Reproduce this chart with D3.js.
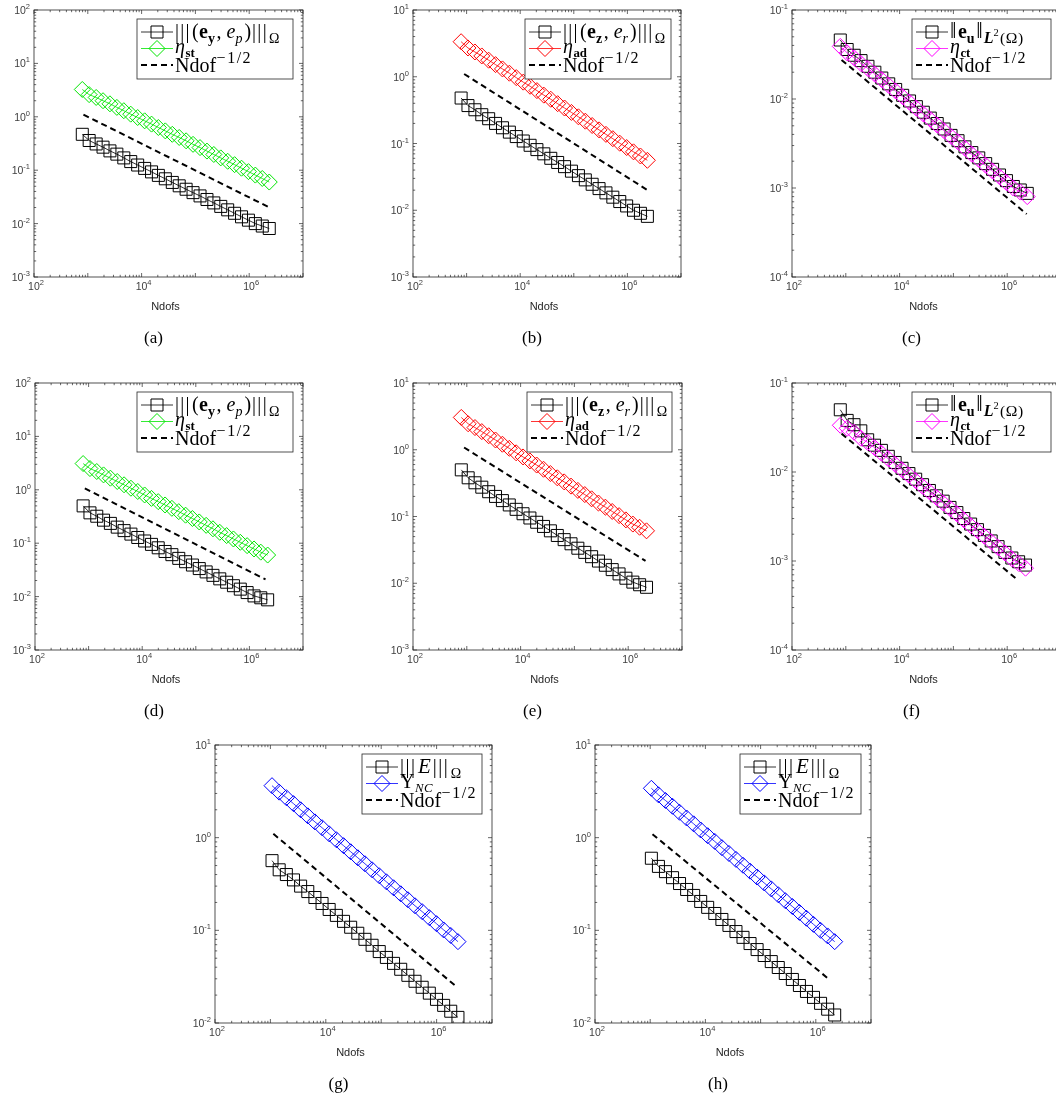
<!DOCTYPE html>
<html>
<head>
<meta charset="utf-8">
<script src="https://cdn.jsdelivr.net/npm/d3@7"></script>
<style>
  body { margin: 0; background: #fff; }
  #fig { will-change: transform; }
</style>
</head>
<body>
<svg id="fig" width="1056" height="1099"></svg>
<script>
// ---- data ----
const ndofsRow1 = [790, 1060, 1430, 1920, 2580, 3470, 4670, 6280, 8450, 11400, 15300, 20500, 27600, 37200,
  50000, 67200, 90400, 122000, 164000, 220000, 296000, 398000, 535000, 720000, 968000, 1300000, 1750000, 2360000];
const ndofsRow2 = [790, 1060, 1420, 1900, 2550, 3420, 4590, 6160, 8260, 11100, 14900, 19900, 26700, 35800,
  48100, 64500, 86500, 116000, 156000, 209000, 280000, 376000, 504000, 676000, 907000, 1220000, 1630000, 2190000];
const ndofsG = [1070, 1440, 1940, 2610, 3510, 4730, 6360, 8560, 11500, 15500, 20900, 28100, 37800, 50900,
  68500, 92200, 124000, 167000, 225000, 303000, 408000, 549000, 739000, 995000, 1340000, 1800000, 2430000];
const ndofsH = [1050, 1410, 1890, 2540, 3400, 4570, 6130, 8220, 11000, 14800, 19900, 26700, 35800, 48000,
  64400, 86400, 116000, 156000, 209000, 280000, 376000, 505000, 677000, 909000, 1220000, 1640000, 2200000];

const errA = [0.47, 0.36, 0.31, 0.27, 0.23, 0.20, 0.17, 0.145, 0.125, 0.108, 0.093, 0.080, 0.069, 0.059,
  0.051, 0.044, 0.038, 0.033, 0.0283, 0.0244, 0.021, 0.0181, 0.0156, 0.0134, 0.0116, 0.0100, 0.0090, 0.0081];
const estA = [3.25, 2.6, 2.3, 2.0, 1.75, 1.5, 1.3, 1.12, 0.97, 0.84, 0.73, 0.63, 0.545, 0.47,
  0.41, 0.355, 0.305, 0.265, 0.228, 0.197, 0.17, 0.147, 0.127, 0.109, 0.094, 0.081, 0.07, 0.06];
const errB = [0.48, 0.37, 0.32, 0.27, 0.235, 0.2, 0.172, 0.148, 0.127, 0.109, 0.094, 0.081, 0.07, 0.06,
  0.052, 0.045, 0.0385, 0.033, 0.0285, 0.0245, 0.0211, 0.0182, 0.0157, 0.0135, 0.0116, 0.01, 0.009, 0.0081];
const estB = [3.35, 2.7, 2.35, 2.05, 1.77, 1.52, 1.31, 1.13, 0.97, 0.83, 0.72, 0.62, 0.53, 0.46,
  0.395, 0.34, 0.292, 0.251, 0.216, 0.186, 0.16, 0.137, 0.118, 0.101, 0.087, 0.075, 0.065, 0.056];
const errC = [0.046, 0.036, 0.031, 0.027, 0.0233, 0.02, 0.0172, 0.0148, 0.0128, 0.011, 0.0095, 0.0082, 0.0071, 0.0061,
  0.0053, 0.0046, 0.0039, 0.0034, 0.0029, 0.0025, 0.00218, 0.00188, 0.00162, 0.0014, 0.00121, 0.00104, 0.00095, 0.00087];
const estC = [0.039, 0.033, 0.029, 0.025, 0.022, 0.019, 0.0165, 0.0142, 0.0123, 0.0106, 0.0092, 0.0079, 0.0068, 0.0059,
  0.0051, 0.0044, 0.0038, 0.0033, 0.0028, 0.0024, 0.0021, 0.0018, 0.00155, 0.00134, 0.00115, 0.001, 0.0009, 0.0008];

const errD = [0.5, 0.37, 0.32, 0.27, 0.235, 0.2, 0.172, 0.148, 0.128, 0.11, 0.095, 0.082, 0.07, 0.061,
  0.052, 0.045, 0.039, 0.0335, 0.029, 0.025, 0.0215, 0.0186, 0.016, 0.0138, 0.0119, 0.0103, 0.0095, 0.0087];
const estD = [3.1, 2.5, 2.2, 1.9, 1.65, 1.43, 1.24, 1.07, 0.93, 0.8, 0.69, 0.6, 0.52, 0.45,
  0.39, 0.335, 0.29, 0.25, 0.216, 0.186, 0.16, 0.139, 0.12, 0.104, 0.09, 0.078, 0.068, 0.06];
const errE = [0.5, 0.38, 0.32, 0.275, 0.235, 0.2, 0.173, 0.149, 0.128, 0.11, 0.095, 0.082, 0.071, 0.061,
  0.052, 0.045, 0.039, 0.0335, 0.029, 0.025, 0.0215, 0.0186, 0.016, 0.0138, 0.0119, 0.0104, 0.0095, 0.0087];
const estE = [3.05, 2.45, 2.15, 1.87, 1.62, 1.4, 1.21, 1.05, 0.9, 0.78, 0.68, 0.59, 0.51, 0.44,
  0.38, 0.33, 0.285, 0.246, 0.213, 0.184, 0.159, 0.138, 0.119, 0.103, 0.089, 0.077, 0.069, 0.061];
const errF = [0.05, 0.038, 0.034, 0.029, 0.023, 0.02, 0.0175, 0.015, 0.0128, 0.011, 0.0096, 0.0083, 0.0072, 0.0062,
  0.0054, 0.0047, 0.004, 0.0035, 0.003, 0.0026, 0.00225, 0.00194, 0.00168, 0.00145, 0.00125, 0.00108, 0.00098, 0.0009];
const estF = [0.0335, 0.031, 0.028, 0.024, 0.0215, 0.0188, 0.0163, 0.0141, 0.0122, 0.0106, 0.0092, 0.008, 0.0069, 0.006,
  0.0052, 0.0045, 0.0039, 0.0034, 0.0029, 0.0025, 0.0022, 0.0019, 0.00165, 0.00142, 0.00123, 0.00106, 0.00094, 0.00083];

const errG = [0.565, 0.45, 0.4, 0.35, 0.3, 0.262, 0.226, 0.195, 0.168, 0.145, 0.125, 0.108, 0.093, 0.08,
  0.069, 0.059, 0.051, 0.044, 0.038, 0.0327, 0.0282, 0.0243, 0.021, 0.018, 0.0155, 0.0134, 0.0115];
const estG = [3.64, 3.1, 2.7, 2.33, 2.0, 1.72, 1.48, 1.28, 1.1, 0.95, 0.82, 0.705, 0.607, 0.523,
  0.45, 0.388, 0.334, 0.288, 0.248, 0.214, 0.184, 0.159, 0.137, 0.118, 0.101, 0.088, 0.0755];
const errH = [0.6, 0.49, 0.43, 0.37, 0.32, 0.276, 0.238, 0.205, 0.177, 0.152, 0.131, 0.113, 0.097, 0.084,
  0.072, 0.062, 0.0535, 0.046, 0.0397, 0.0342, 0.0295, 0.0254, 0.0219, 0.0189, 0.0163, 0.0141, 0.0122];
const estH = [3.41, 2.9, 2.52, 2.18, 1.88, 1.63, 1.41, 1.21, 1.05, 0.91, 0.78, 0.675, 0.583, 0.504,
  0.435, 0.376, 0.325, 0.28, 0.242, 0.209, 0.181, 0.156, 0.135, 0.116, 0.1, 0.087, 0.0755];

// reference slope Ndof^{-1/2}: end points [ndof, value]
const refA = [[830, 1.1], [2270000, 0.0205]];
const refB = [[900, 1.1], [2290000, 0.0204]];
const refC = [[833, 0.0275], [2300000, 0.00051]];
const refD = [[850, 1.06], [2000000, 0.021]];
const refE = [[890, 1.08], [2100000, 0.0216]];
const refF = [[833, 0.027], [1580000, 0.00061]];
const refG = [[1130, 1.1], [2360000, 0.0243]];
const refH = [[1100, 1.09], [1800000, 0.0291]];

const xDomain = [1e2, 1e7];
const captions = ["(a)", "(b)", "(c)", "(d)", "(e)", "(f)", "(g)", "(h)"];

// legend labels (pieces of math text)
const lblErrYP = [{t: "|||", ls: 1.3}, {t: "(", dx: 1}, {t: "e", b: 1, dx: 0.5}, {t: "y", b: 1, sub: 1}, {t: ",", dx: 1.5},
  {t: "e", i: 1, dx: 5}, {t: "p", i: 1, sub: 1}, {t: ")", dx: 2}, {t: "|||", ls: 1.3, dx: 1}, {t: "Ω", sub: 1, dx: 1}];
const lblErrZR = [{t: "|||", ls: 1.3}, {t: "(", dx: 1}, {t: "e", b: 1, dx: 0.5}, {t: "z", b: 1, sub: 1}, {t: ",", dx: 1.5},
  {t: "e", i: 1, dx: 5}, {t: "r", i: 1, sub: 1}, {t: ")", dx: 2}, {t: "|||", ls: 1.3, dx: 1}, {t: "Ω", sub: 1, dx: 1}];
const lblErrU = [{t: "‖", f: 1.15}, {t: "e", b: 1, dx: 1.5}, {t: "u", b: 1, sub: 1}, {t: "‖", f: 1.15, dx: 1.5},
  {t: "L", b: 1, i: 1, sub: 1, f: 0.8, dx: 1}, {t: "2", sup2: 1}, {t: "(Ω)", sub: 1, f: 0.78, dx: 1.5, ls: 0.5}];
const lblErrE = [{t: "|||", ls: 1.5}, {t: "E", i: 1, dx: 1.5, f: 1.05}, {t: "|||", ls: 1.5, dx: 2}, {t: "Ω", sub: 1, dx: 1.5}];
const lblEtaSt = [{t: "η", i: 1}, {t: "st", b: 1, sub: 1, lo: 1, dx: 0.5}];
const lblEtaAd = [{t: "η", i: 1}, {t: "ad", b: 1, sub: 1, lo: 1, dx: 0.5}];
const lblEtaCt = [{t: "η", i: 1}, {t: "ct", b: 1, sub: 1, lo: 1, dx: 0.5}];
const lblUps = [{t: "Υ"}, {t: "NC", i: 1, sub: 1, lo: 1, dx: 0.5, ls: 0.5}];
const lblRef = [{t: "Ndof"}, {t: "−", sup: 1, f: 0.8, dx: 0.5}, {t: "1/2", sup: 1, f: 0.8, dx: 1.5, ls: 1.5}];

const panels = [
  {x: 34, y: 10, w: 269, h: 267, yDomain: [1e-3, 1e2], n: ndofsRow1, err: errA, est: estA, ref: refA, color: "#00e600", lw: 156, lErr: lblErrYP, lEst: lblEtaSt},
  {x: 413, y: 10, w: 268, h: 267, yDomain: [1e-3, 1e1], n: ndofsRow1, err: errB, est: estB, ref: refB, color: "#ff0000", lw: 146, lErr: lblErrZR, lEst: lblEtaAd},
  {x: 792, y: 10, w: 269, h: 267, yDomain: [1e-4, 1e-1], n: ndofsRow1, err: errC, est: estC, ref: refC, color: "#ff00ff", lw: 139, lErr: lblErrU, lEst: lblEtaCt},
  {x: 35, y: 383, w: 268, h: 267, yDomain: [1e-3, 1e2], n: ndofsRow2, err: errD, est: estD, ref: refD, color: "#00e600", lw: 156, lErr: lblErrYP, lEst: lblEtaSt},
  {x: 413, y: 383, w: 269, h: 267, yDomain: [1e-3, 1e1], n: ndofsRow2, err: errE, est: estE, ref: refE, color: "#ff0000", lw: 145, lErr: lblErrZR, lEst: lblEtaAd},
  {x: 792, y: 383, w: 269, h: 267, yDomain: [1e-4, 1e-1], n: ndofsRow2, err: errF, est: estF, ref: refF, color: "#ff00ff", lw: 139, lErr: lblErrU, lEst: lblEtaCt},
  {x: 215, y: 745, w: 277, h: 278, yDomain: [1e-2, 1e1], n: ndofsG, err: errG, est: estG, ref: refG, color: "#0000ff", lw: 120, lErr: lblErrE, lEst: lblUps},
  {x: 595, y: 745, w: 276, h: 278, yDomain: [1e-2, 1e1], n: ndofsH, err: errH, est: estH, ref: refH, color: "#0000ff", lw: 121, lErr: lblErrE, lEst: lblUps}
];

const serif = "Liberation Serif, Times New Roman, serif";
const sans = "Liberation Sans, Arial, sans-serif";
const axisColor = "#262626";

const svg = d3.select("#fig");
svg.append("rect").attr("width", 1056).attr("height", 1099).attr("fill", "#fff");

function mathText(g, x, y, parts, size) {
  const t = g.append("text").attr("x", x).attr("y", y)
    .style("font-family", serif).attr("font-size", size).attr("fill", "#000");
  let cur = 0;
  parts.forEach(p => {
    let shift = 0, fs = size;
    if (p.sub) { shift = size * (p.lo ? 0.18 : 0.25); fs = size * (p.lo ? 0.64 : 0.7); }
    if (p.sup) { shift = -size * 0.42; fs = size * 0.74; }
    if (p.sup2) { shift = -size * 0.1; fs = size * 0.52; }
    if (p.f) fs = size * p.f;
    t.append("tspan")
      .attr("dy", (shift - cur).toFixed(2))
      .attr("dx", p.dx || null)
      .style("font-family", serif)
      .attr("font-size", fs)
      .attr("font-weight", p.b ? "bold" : null)
      .attr("font-style", p.i ? "italic" : null)
      .attr("letter-spacing", p.ls != null ? p.ls : null)
      .text(p.t);
    cur = shift;
  });
  return t;
}

function squarePath(s) { return `M${-s},${-s}H${s}V${s}H${-s}Z`; }
function diamondPath(s) { return `M0,${-s}L${s},0L0,${s}L${-s},0Z`; }

function powLabel(g, x, y, exp, anchor) {
  const t = g.append("text").attr("x", x).attr("y", y)
    .style("font-family", sans).attr("font-size", 10.5).attr("fill", "#404040")
    .attr("text-anchor", anchor);
  t.append("tspan").text("10");
  t.append("tspan").attr("dy", -5).attr("font-size", 7.5).text(exp);
}

panels.forEach((p, pi) => {
  const g = svg.append("g").attr("transform", `translate(${p.x},${p.y})`);
  const x = d3.scaleLog().domain(xDomain).range([0, p.w]);
  const y = d3.scaleLog().domain(p.yDomain).range([p.h, 0]);

  const clipId = "clip" + pi;
  g.append("clipPath").attr("id", clipId).append("rect").attr("width", p.w).attr("height", p.h);

  // ticks (inside, all four sides)
  const eLo = Math.round(Math.log10(xDomain[0])), eHi = Math.round(Math.log10(xDomain[1]));
  const xMajor = [], xMinor = [];
  for (let e = eLo; e <= eHi; e++) {
    xMajor.push(Math.pow(10, e));
    if (e < eHi) for (let m = 2; m <= 9; m++) xMinor.push(m * Math.pow(10, e));
  }
  const yLo = Math.round(Math.log10(p.yDomain[0])), yHi = Math.round(Math.log10(p.yDomain[1]));
  const yMajor = [], yMinor = [];
  for (let e = yLo; e <= yHi; e++) {
    yMajor.push(Math.pow(10, e));
    if (e < yHi) for (let m = 2; m <= 9; m++) yMinor.push(m * Math.pow(10, e));
  }
  const tk = g.append("g").attr("stroke", axisColor).attr("stroke-width", 0.7);
  const tick = (v, len) => {
    tk.append("line").attr("x1", x(v)).attr("x2", x(v)).attr("y1", p.h).attr("y2", p.h - len);
    tk.append("line").attr("x1", x(v)).attr("x2", x(v)).attr("y1", 0).attr("y2", len);
  };
  xMajor.forEach(v => tick(v, 4));
  xMinor.forEach(v => tick(v, 2.2));
  const ytick = (v, len) => {
    tk.append("line").attr("y1", y(v)).attr("y2", y(v)).attr("x1", 0).attr("x2", len);
    tk.append("line").attr("y1", y(v)).attr("y2", y(v)).attr("x1", p.w).attr("x2", p.w - len);
  };
  yMajor.forEach(v => ytick(v, 4));
  yMinor.forEach(v => ytick(v, 2.2));

  // tick labels
  [1e2, 1e4, 1e6].forEach(v => powLabel(g, x(v) + 2, p.h + 13, Math.round(Math.log10(v)), "middle"));
  yMajor.forEach(v => powLabel(g, -4, y(v) + 4, Math.round(Math.log10(v)), "end"));

  // box
  g.append("rect").attr("width", p.w).attr("height", p.h)
    .attr("fill", "none").attr("stroke", axisColor).attr("stroke-width", 0.8);

  const plot = g.append("g").attr("clip-path", `url(#${clipId})`);
  const line = d3.line().x(d => x(d[0])).y(d => y(d[1]));

  // error (black squares)
  const errPts = p.n.map((v, i) => [v, p.err[i]]);
  plot.append("path").attr("d", line(errPts)).attr("fill", "none").attr("stroke", "#000").attr("stroke-width", 0.8);
  plot.append("g").selectAll("path").data(errPts).join("path")
    .attr("transform", d => `translate(${x(d[0])},${y(d[1])})`)
    .attr("d", squarePath(6)).attr("fill", "none").attr("stroke", "#000").attr("stroke-width", 1);

  // estimator (coloured diamonds)
  const estPts = p.n.map((v, i) => [v, p.est[i]]);
  plot.append("path").attr("d", line(estPts)).attr("fill", "none").attr("stroke", p.color).attr("stroke-width", 0.8);
  plot.append("g").selectAll("path").data(estPts).join("path")
    .attr("transform", d => `translate(${x(d[0])},${y(d[1])})`)
    .attr("d", diamondPath(8)).attr("fill", "none").attr("stroke", p.color).attr("stroke-width", 1);

  // reference slope
  plot.append("path").attr("d", line(p.ref)).attr("fill", "none").attr("stroke", "#000")
    .attr("stroke-width", 2).attr("stroke-dasharray", "6,4");

  // legend
  const lg = g.append("g").attr("transform", `translate(${p.w - 10 - p.lw},9)`);
  lg.append("rect").attr("width", p.lw).attr("height", 60).attr("fill", "#fff")
    .attr("stroke", axisColor).attr("stroke-width", 0.8);
  const rows = [
    {c: "#000", mk: squarePath(6), lbl: p.lErr, dy: 5.5},
    {c: p.color, mk: diamondPath(8), lbl: p.lEst, dy: 4.5},
    {c: "#000", dash: true, lbl: lblRef, dy: 6.5}
  ];
  rows.forEach((r, i) => {
    const cy = 13 + i * 16.5;
    lg.append("line").attr("x1", 4).attr("x2", 36).attr("y1", cy).attr("y2", cy)
      .attr("stroke", r.c).attr("stroke-width", r.dash ? 2 : 0.8)
      .attr("stroke-dasharray", r.dash ? "6,4" : null);
    if (r.mk) lg.append("path").attr("transform", `translate(20,${cy})`).attr("d", r.mk)
      .attr("fill", "none").attr("stroke", r.c).attr("stroke-width", 1);
    mathText(lg, 38, cy + r.dy, r.lbl, 20);
  });

  // axis label and caption
  g.append("text").attr("x", p.w / 2 - 3).attr("y", p.h + 33)
    .attr("text-anchor", "middle").style("font-family", sans).attr("font-size", 11)
    .attr("fill", axisColor).text("Ndofs");
  g.append("text").attr("x", p.w / 2 - 15).attr("y", p.h + 66)
    .attr("text-anchor", "middle").style("font-family", serif).attr("font-size", 17)
    .attr("fill", "#000").text(captions[pi]);
});
</script>
</body>
</html>
